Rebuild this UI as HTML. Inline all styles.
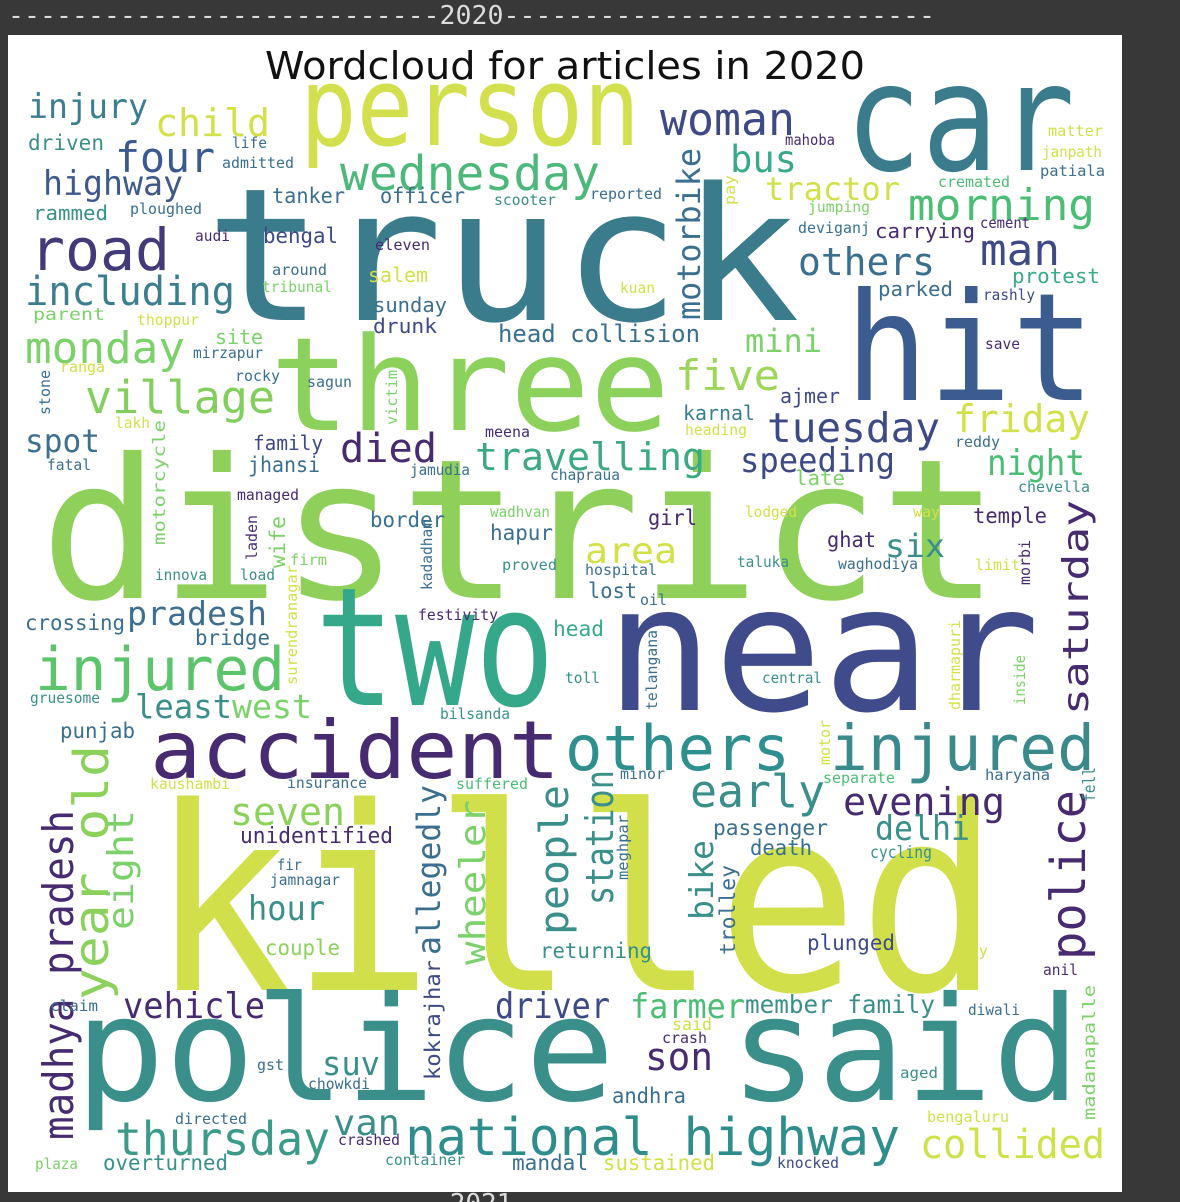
<!DOCTYPE html>
<html><head><meta charset="utf-8"><style>
html,body{margin:0;padding:0;background:#383838;width:1180px;height:1202px;overflow:hidden}
svg{display:block}
.w{font-family:"DejaVu Sans Mono","Liberation Mono",monospace}
</style></head><body>
<svg id="s" width="1180" height="1202" xmlns="http://www.w3.org/2000/svg">
<text x="8" y="24" font-family="DejaVu Sans Mono, Liberation Mono, monospace" font-size="26" fill="#dcdcdc" textLength="927" lengthAdjust="spacingAndGlyphs">---------------------------2020---------------------------</text>
<rect x="8" y="35" width="1114" height="1157" fill="#ffffff"/>
<text x="565" y="79" text-anchor="middle" font-family="DejaVu Sans, Liberation Sans, sans-serif" font-size="38" fill="#111" textLength="600" lengthAdjust="spacingAndGlyphs">Wordcloud for articles in 2020</text>
<text x="481" y="1212" text-anchor="middle" font-family="DejaVu Sans Mono, monospace" font-size="26" fill="#dcdcdc">2021</text>
<g id="words"></g>
</svg>
<script>
// word, x, baseline, font size, length, colour, vertical
const words = [
["truck",205,320,185,595,"#3b7c8c",0],
["district",40,598,195,960,"#8fd05a",0],
["killed",150,990,256,850,"#d1e04a",0],
["police",75,1100,145,540,"#3a8f8b",0],
["said",730,1100,145,350,"#3a8f8b",0],
["near",605,710,175,435,"#3f4b8a",0],
["two",315,705,165,240,"#35a88a",0],
["three",270,430,130,400,"#8cd15b",0],
["hit",845,400,150,250,"#3c5b8e",0],
["car",845,170,150,230,"#3b7c8c",0],
["person",300,145,110,340,"#d2e04e",0],
["accident",150,778,80,410,"#472b70",0],
["others",565,770,62,225,"#2d8f8e",0],
["injured",830,770,63,265,"#3a8a8c",0],
["injured",35,690,60,250,"#5cc46a",0],
["national highway",405,1155,52,495,"#2f8e8c",0],
["thursday",115,1155,46,215,"#3c9b88",0],
["collided",920,1158,40,185,"#cfe14a",0],
["road",30,270,58,140,"#433a78",0],
["including",25,305,40,210,"#3b7f8f",0],
["monday",25,363,44,160,"#7cd16a",0],
["village",85,413,45,190,"#83cf5e",0],
["spot",25,452,32,75,"#3d6f8e",0],
["woman",660,135,45,135,"#3d4a85",0],
["wednesday",340,190,48,260,"#4cb87a",0],
["four",115,172,42,100,"#3a5a8f",0],
["child",155,136,38,115,"#d2e04a",0],
["injury",28,118,34,120,"#3a7f8f",0],
["driven",28,150,21,76,"#3d8f8a",0],
["highway",43,195,34,140,"#3d5a8a",0],
["rammed",33,220,20,75,"#3c8f8a",0],
["bus",730,172,37,67,"#3aa88a",0],
["tractor",765,200,32,135,"#d2e04a",0],
["morning",908,220,44,187,"#4cbd74",0],
["others",798,275,38,137,"#3a6f8f",0],
["man",980,265,44,80,"#3e4a86",0],
["protest",1012,283,20,88,"#3aa88a",0],
["parked",878,296,20,75,"#3a6f8f",0],
["rashly",983,300,15,52,"#3d4a85",0],
["motorbike",700,320,32,172,"#3a6f8f",1],
["tanker",272,203,21,73,"#3a6f8f",0],
["officer",380,203,21,85,"#3a6f8f",0],
["bengal",263,243,21,75,"#3d4a85",0],
["salem",368,282,20,60,"#d2e04a",0],
["sunday",373,312,20,74,"#3a6f8f",0],
["drunk",373,333,20,64,"#3d4a85",0],
["head collision",498,342,24,202,"#3a6f8f",0],
["mini",745,352,32,77,"#7cd16a",0],
["five",675,390,42,105,"#9ed65a",0],
["friday",953,432,38,137,"#d2e04a",0],
["tuesday",767,442,41,173,"#3d4a85",0],
["travelling",475,470,38,230,"#3ba886",0],
["speeding",740,472,34,155,"#3d4a85",0],
["night",987,475,36,98,"#4cbd74",0],
["died",340,462,40,97,"#472b70",0],
["family",253,450,20,70,"#3d4a85",0],
["jhansi",248,472,21,72,"#3a6f8f",0],
["karnal",683,420,20,72,"#3a7f8f",0],
["ajmer",780,403,20,60,"#3d4a85",0],
["saturday",1088,715,36,215,"#472b70",1],
["temple",973,523,21,74,"#472b70",0],
["six",885,557,32,60,"#3a8f8b",0],
["area",585,563,36,92,"#d2e04a",0],
["girl",648,525,21,49,"#472b70",0],
["hapur",490,540,21,63,"#3a6f8f",0],
["border",370,527,21,75,"#3a6f8f",0],
["ghat",827,547,21,49,"#472b70",0],
["lost",588,598,21,49,"#3a6f8f",0],
["pradesh",127,625,33,140,"#3d6f8e",0],
["crossing",25,630,21,100,"#3a6f8f",0],
["bridge",195,645,21,75,"#3a6f8f",0],
["least",135,718,33,97,"#3a8f8b",0],
["west",232,718,33,80,"#7cd16a",0],
["punjab",60,738,21,75,"#3a6f8f",0],
["head",553,636,21,51,"#3aa88a",0],
["police",1085,960,48,170,"#472b70",1],
["evening",843,815,38,162,"#472b70",0],
["delhi",875,840,34,95,"#3a8f8b",0],
["early",690,807,45,135,"#3a8f8b",0],
["passenger",713,835,21,115,"#3a6f8f",0],
["death",750,855,21,62,"#3a6f8f",0],
["cycling",870,858,17,62,"#3a8f8b",0],
["plunged",807,950,21,88,"#3d4a85",0],
["seven",230,825,38,115,"#8cd15b",0],
["unidentified",240,843,22,153,"#472b70",0],
["hour",248,920,34,77,"#3a8f8b",0],
["couple",265,955,21,75,"#8cd15b",0],
["vehicle",123,1018,36,142,"#472b70",0],
["madhya pradesh",73,1140,42,330,"#472b70",1],
["year old",108,1000,48,255,"#8cd15b",1],
["eight",133,930,36,120,"#7cd16a",1],
["allegedly",440,955,32,170,"#3a6f8f",1],
["kokrajhar",440,1080,21,120,"#3d4a85",1],
["wheeler",485,965,36,165,"#7cd16a",1],
["people",568,935,40,150,"#3a8f8b",1],
["station",613,905,38,135,"#3a8f8b",1],
["bike",713,920,33,80,"#3a8f8b",1],
["trolley",735,955,21,90,"#3a6f8f",1],
["returning",540,958,21,112,"#3a8f8b",0],
["driver",495,1018,36,115,"#3d4a85",0],
["farmer",630,1018,34,115,"#4cbd74",0],
["member family",745,1013,25,190,"#3a8f8b",0],
["son",645,1070,38,68,"#472b70",0],
["andhra",612,1103,21,74,"#3a6f8f",0],
["suv",322,1075,33,58,"#3a8f8b",0],
["van",333,1135,36,67,"#3a8f8b",0],
["overturned",103,1170,21,125,"#3a8f8b",0],
["mandal",512,1170,21,76,"#3a6f8f",0],
["sustained",603,1170,21,112,"#d2e04a",0],
["madanapalle",1095,1120,17,135,"#7cd16a",1],
["crash",662,1043,15,45,"#472b70",0],
["said",672,1030,17,40,"#cfe14a",0],
["diwali",968,1015,15,52,"#3a6f8f",0],
["aged",900,1078,15,38,"#3a8f8b",0],
["bengaluru",927,1122,15,82,"#d2e04a",0],
["knocked",777,1168,15,62,"#3d4a85",0],
["container",385,1165,15,80,"#3a8f8b",0],
["crashed",338,1145,15,62,"#472b70",0],
["directed",175,1124,15,72,"#3a6f8f",0],
["chowkdi",308,1089,15,62,"#3a6f8f",0],
["gst",257,1070,15,27,"#3a6f8f",0],
["claim",50,1011,15,48,"#3a6f8f",0],
["plaza",35,1169,15,43,"#7cd16a",0],
["kaushambi",150,789,15,80,"#d2e04a",0],
["insurance",287,788,15,80,"#3a6f8f",0],
["suffered",456,789,15,72,"#4cbd74",0],
["fir",277,870,15,25,"#3a6f8f",0],
["jamnagar",270,885,15,70,"#3a6f8f",0],
["separate",823,783,15,72,"#4cbd74",0],
["minor",620,779,15,45,"#3a6f8f",0],
["haryana",985,780,15,65,"#3a6f8f",0],
["anil",1043,975,15,35,"#472b70",0],
["boy",960,956,15,28,"#d2e04a",0],
["life",232,148,15,35,"#3a6f8f",0],
["admitted",222,168,15,72,"#3a6f8f",0],
["ploughed",130,214,15,72,"#3a6f8f",0],
["audi",195,241,15,35,"#472b70",0],
["around",272,275,15,55,"#3a6f8f",0],
["tribunal",262,292,15,70,"#7cd16a",0],
["parent",33,320,17,72,"#7cd16a",0],
["thoppur",137,325,15,62,"#d2e04a",0],
["site",215,344,20,48,"#7cd16a",0],
["mirzapur",193,358,15,70,"#3a6f8f",0],
["ranga",60,372,15,45,"#d2e04a",0],
["rocky",235,381,15,45,"#3a6f8f",0],
["sagun",307,387,15,45,"#3a6f8f",0],
["lakh",115,428,15,35,"#d2e04a",0],
["fatal",47,470,15,44,"#3a6f8f",0],
["managed",237,500,15,62,"#472b70",0],
["innova",155,580,15,52,"#3a8f8b",0],
["load",240,580,15,35,"#3a8f8b",0],
["firm",290,565,15,37,"#7cd16a",0],
["gruesome",30,703,15,70,"#3a8f8b",0],
["eleven",375,250,15,55,"#472b70",0],
["scooter",494,205,15,62,"#3a8f8b",0],
["reported",590,199,15,72,"#3a6f8f",0],
["mahoba",785,145,15,50,"#472b70",0],
["matter",1048,136,15,55,"#d2e04a",0],
["janpath",1042,157,15,60,"#d2e04a",0],
["patiala",1040,176,15,65,"#3a6f8f",0],
["cremated",938,187,15,72,"#4cbd74",0],
["jumping",808,212,15,62,"#7cd16a",0],
["deviganj",798,233,15,72,"#3a6f8f",0],
["carrying",875,238,20,100,"#472b70",0],
["cement",980,228,15,50,"#472b70",0],
["save",985,349,15,35,"#472b70",0],
["kuan",620,293,15,35,"#d2e04a",0],
["meena",485,437,15,45,"#472b70",0],
["heading",685,435,15,62,"#d2e04a",0],
["jamudia",410,475,15,60,"#3a6f8f",0],
["chapraua",550,480,15,70,"#3a6f8f",0],
["late",795,485,20,50,"#7cd16a",0],
["reddy",955,447,15,45,"#3a6f8f",0],
["chevella",1018,492,15,72,"#3a8f8b",0],
["wadhvan",490,517,15,60,"#7cd16a",0],
["lodged",745,517,15,52,"#d2e04a",0],
["way",913,517,15,27,"#d2e04a",0],
["proved",502,570,15,55,"#3a8f8b",0],
["hospital",585,575,15,72,"#3a6f8f",0],
["taluka",737,567,15,52,"#3a8f8b",0],
["waghodiya",838,569,15,80,"#3a6f8f",0],
["limit",975,570,15,45,"#d2e04a",0],
["oil",640,605,15,27,"#3a6f8f",0],
["festivity",418,620,15,80,"#472b70",0],
["toll",565,683,15,35,"#3a8f8b",0],
["central",762,683,15,60,"#3a8f8b",0],
["bilsanda",440,719,15,70,"#3a8f8b",0],
["motorcycle",165,545,17,125,"#7cd16a",1],
["victim",397,425,15,55,"#7cd16a",1],
["stone",50,415,15,45,"#3a6f8f",1],
["laden",257,560,15,45,"#472b70",1],
["wife",285,568,21,52,"#7cd16a",1],
["kadadham",432,590,15,70,"#3a6f8f",1],
["surendranagar",297,685,15,120,"#d2e04a",1],
["telangana",657,710,15,80,"#3a6f8f",1],
["dharmapuri",960,710,15,90,"#d2e04a",1],
["inside",1025,705,15,50,"#7cd16a",1],
["morbi",1030,585,15,45,"#472b70",1],
["motor",830,765,15,45,"#d2e04a",1],
["meghpar",628,880,15,65,"#3a6f8f",1],
["fell",1095,802,17,35,"#3a8f8b",1],
["pay",735,205,15,30,"#d2e04a",1]
];
const g = document.getElementById('words');
const NS = 'http://www.w3.org/2000/svg';
for (const [w,x,y,fs,len,col,v] of words) {
  const t = document.createElementNS(NS,'text');
  t.setAttribute('class','w');
  t.setAttribute('x',x);
  t.setAttribute('y',y);
  t.setAttribute('font-size',fs);
  t.setAttribute('fill',col);
  t.setAttribute('textLength',len);
  t.setAttribute('lengthAdjust','spacingAndGlyphs');
  if (v) t.setAttribute('transform','rotate(-90 '+x+' '+y+')');
  t.textContent = w;
  
  
  g.appendChild(t);
}
</script>
</body></html>
